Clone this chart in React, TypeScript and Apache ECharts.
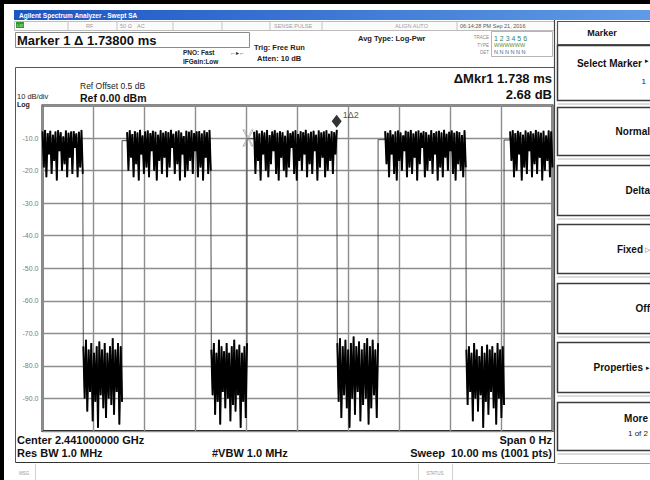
import React, { useEffect, useRef } from "react";
import * as echarts from "echarts";

// ---- Data ----
const highStartsMs = [0.0, 1.66, 4.15, 6.72, 9.17];
const highEndsMs = [0.79, 3.3, 5.77, 8.3, 10.0];
const lowStartsMs = [0.8, 3.31, 5.78, 8.31];
const lowEndsMs = [1.56, 4.01, 6.58, 9.05];
const gapLevelsDb = [-10.8, -10.2, -10.5, -10.6];

const burstHigh1 = [-8, -19, -7.5, -22, -8.5, -15, -7.8, -21, -9, -17, -8, -23, -7.6, -14, -8.2, -20, -9.5, -18, -7.7, -22, -8.4, -16, -8, -21, -7.9, -13, -8.6, -22, -8.1, -19, -7.5, -21];
const burstHigh2 = [-8.2, -20, -7.6, -16, -8.8, -22, -7.9, -18, -8.3, -23, -7.5, -15, -9.2, -21, -8, -19, -7.7, -22, -8.5, -14, -7.8, -20, -8.1, -23, -9, -17, -7.6, -21, -8.4, -16, -7.9, -22, -8.2, -19, -7.5, -13, -8.7, -21, -8, -18, -7.7, -23, -8.3, -15, -9.4, -22, -7.8, -20, -8.1, -17, -7.6, -21, -8.5, -14, -8, -22, -7.9, -19, -8.6, -23, -7.7, -16, -8.2, -21, -7.5, -20];
const burstHigh3 = [-8.1, -21, -7.7, -17, -8.6, -23, -7.8, -15, -8.3, -20, -7.5, -22, -9.1, -18, -8, -14, -7.6, -21, -8.4, -23, -7.9, -16, -8.2, -20, -9.3, -22, -7.7, -19, -8.5, -13, -8, -21, -7.6, -23, -8.8, -17, -7.9, -20, -8.2, -15, -7.5, -22, -8.6, -18, -8.1, -21, -7.8, -14, -9, -23, -7.7, -19, -8.3, -16, -8, -22, -7.6, -20, -8.7, -17, -7.9, -21, -8.2, -15, -7.5];
const burstHigh4 = [-7.9, -18, -8.4, -22, -7.6, -15, -8.9, -21, -8, -23, -7.7, -17, -8.3, -20, -9.2, -14, -7.8, -22, -8.1, -19, -7.5, -21, -8.6, -16, -8, -23, -7.7, -18, -8.4, -13, -7.9, -22, -8.2, -20, -9, -17, -7.6, -21, -8.5, -15, -8, -23, -7.8, -19, -8.3, -22, -7.5, -16, -8.7, -20, -8.1, -14, -7.7, -21, -8.4, -23, -7.9, -18, -8.2, -20, -9.1, -22, -7.6, -19];
const burstHigh5 = [-8, -17, -7.6, -22, -8.5, -20, -7.8, -15, -8.2, -23, -9, -19, -7.7, -21, -8.3, -14, -7.9, -22, -8.6, -18, -7.5, -21, -8.1, -16, -8.4, -23, -7.8, -20, -9.2, -17, -7.7, -22, -8, -19];

const burstLow1 = [-74, -90, -72, -94, -75, -88, -73, -97, -76, -91, -74, -99, -72.5, -89, -75, -93, -73, -96, -76, -90, -74, -92, -71.5, -95, -75, -88, -73, -98, -74, -91];
const burstLow2 = [-75, -89, -73, -95, -76, -91, -72, -98, -74, -88, -75.5, -93, -73, -90, -76, -97, -74, -92, -72, -94, -75, -89, -73.5, -99, -76, -91, -74, -96, -73];
const burstLow3 = [-73, -91, -71.5, -96, -74, -89, -72, -93, -75, -99, -73, -90, -71, -95, -74, -88, -72.5, -97, -75, -92, -73, -90, -71.5, -98, -74, -93, -72, -89, -75, -96, -73];
const burstLow4 = [-75, -92, -74, -88, -76, -97, -73, -90, -75, -94, -77, -89, -74, -99, -76, -91, -73.5, -95, -75, -88, -74, -93, -76, -98, -73, -90, -75, -96, -74, -92];

const markerDelta = [5.768, -7.3];
const markerRef = [4.03, -10.0];

const yTickMin = -100;
const yTickMax = 0;
const xMinMs = 0;
const xMaxMs = 10;

const highBursts = [burstHigh1, burstHigh2, burstHigh3, burstHigh4, burstHigh5];
const lowBursts = [burstLow1, burstLow2, burstLow3, burstLow4];

function segment(start: number, end: number, vals: number[]) {
  return vals.map((v, i) => [start + ((end - start) * i) / (vals.length - 1), v]);
}

// full continuous trace (thin, carries the transitions)
function buildTrace() {
  const pts: any[] = [];
  for (let i = 0; i < highBursts.length; i++) {
    pts.push(...segment(highStartsMs[i], highEndsMs[i], highBursts[i]));
    if (i < lowBursts.length) {
      pts.push(...segment(lowStartsMs[i], lowEndsMs[i], lowBursts[i]));
      pts.push([lowEndsMs[i], gapLevelsDb[i]]);
      pts.push([highStartsMs[i + 1], gapLevelsDb[i]]);
    }
  }
  return pts;
}

// burst-only copy of the same samples (heavier stroke for the dense bursts)
function buildBursts() {
  const pts: any[] = [];
  for (let i = 0; i < highBursts.length; i++) {
    pts.push(...segment(highStartsMs[i], highEndsMs[i], highBursts[i]));
    pts.push([null, null]);
    if (i < lowBursts.length) {
      pts.push(...segment(lowStartsMs[i], lowEndsMs[i], lowBursts[i]));
      pts.push([null, null]);
    }
  }
  return pts;
}

const FONT = '"Liberation Sans", Arial, Helvetica, sans-serif';

function txt(x: number, y: number, text: string, size: number, o: any = {}) {
  return {
    type: "text",
    x,
    y,
    z: 100,
    silent: true,
    style: {
      text,
      fontSize: size,
      fontFamily: FONT,
      fontWeight: o.bold ? "bold" : "normal",
      fill: o.color || "#111",
      align: o.align || "left",
      verticalAlign: "middle",
    },
  };
}
function line(x1: number, y1: number, x2: number, y2: number, stroke = "#333", w = 1) {
  return { type: "line", z: 90, silent: true, shape: { x1, y1, x2, y2 }, style: { stroke, lineWidth: w } };
}
function rect(x: number, y: number, w: number, h: number, fill: any, stroke?: string, lw = 1) {
  return {
    type: "rect",
    z: 80,
    silent: true,
    shape: { x, y, width: w, height: h },
    style: { fill, stroke: stroke || "none", lineWidth: lw },
  };
}

function buildGraphics() {
  const g: any[] = [];
  g.push(rect(0, 0, 650, 4, "#000"));
  g.push(rect(0, 0, 4, 480, "#000"));
  g.push(
    rect(
      14,
      10,
      636,
      10,
      new echarts.graphic.LinearGradient(0, 0, 1, 0, [
        { offset: 0, color: "#1b55c4" },
        { offset: 1, color: "#5f9be6" },
      ])
    )
  );
  g.push(txt(19, 15.5, "Agilent Spectrum Analyzer - Swept SA", 6.5, { bold: true, color: "#fff" }));
  g.push(rect(14.5, 21.5, 540, 9, "#fbfbfb", "#bdbdbd", 1));
  [68, 117, 173, 222, 270, 322, 457].forEach((x) => g.push(line(x, 21.5, x, 30.5, "#c4c4c4", 1)));
  g.push(rect(16, 22, 8, 6, "#2e9a2e"));
  g.push(txt(20, 25, "LXI", 4, { align: "center", color: "#dff5df" }));
  g.push(txt(86, 26, "RF", 5.5, { color: "#9a9a9a" }));
  g.push(txt(120, 26, "50 Ω", 5.5, { color: "#9a9a9a" }));
  g.push(txt(137, 26, "AC", 5.5, { color: "#9a9a9a" }));
  g.push(txt(274, 26, "SENSE:PULSE", 5.5, { color: "#a0a0a0" }));
  g.push(txt(395, 26, "ALIGN AUTO", 5.5, { color: "#a0a0a0" }));
  g.push(txt(460, 26, "06:14:28 PM Sep 21, 2016", 5.5, { color: "#555" }));

  g.push(rect(15.5, 32.5, 234, 15, "#fff", "#8a8a8a", 1));
  g.push(txt(17, 40.5, "Marker 1 Δ 1.73800 ms", 13, { bold: true }));
  g.push(txt(183, 52.5, "PNO: Fast", 6.5, { bold: true, color: "#222" }));
  g.push(txt(230, 52.5, "←▸←", 6, { color: "#222" }));
  g.push(txt(183, 61.5, "IFGain:Low", 6.5, { bold: true, color: "#222" }));
  g.push(txt(254, 47, "Trig: Free Run", 7.5, { bold: true, color: "#222" }));
  g.push(txt(257, 58.5, "Atten: 10 dB", 7.5, { bold: true, color: "#222" }));
  g.push(txt(358, 38.5, "Avg Type: Log-Pwr", 7.5, { bold: true, color: "#222" }));
  g.push(rect(491.5, 31.5, 61, 25, "#fff", "#b5b5b5", 1));
  g.push(txt(489, 37, "TRACE", 4.5, { align: "right", color: "#888" }));
  g.push(txt(489, 45, "TYPE", 4.5, { align: "right", color: "#888" }));
  g.push(txt(489, 52, "DET", 4.5, { align: "right", color: "#888" }));
  g.push(txt(494, 38, "1 2 3 4 5 6", 7, { color: "#2f7f6a" }));
  g.push(txt(494, 45, "WWWWWW", 5.5, { color: "#6a8a2a" }));
  g.push(txt(494, 52, "N N N N N N", 5.5, { color: "#4a6a9a" }));

  g.push(line(15.5, 67.5, 554, 67.5, "#555", 1));
  g.push(line(15.5, 67.5, 15.5, 462.5, "#555", 1));
  g.push(line(15.5, 462.5, 555, 462.5, "#333", 1.2));
  g.push(line(554.5, 20, 554.5, 463, "#444", 1.2));

  g.push(txt(80, 85.5, "Ref Offset 0.5 dB", 8.5, { color: "#222" }));
  g.push(txt(17, 96, "10 dB/div", 7.5, { color: "#222" }));
  g.push(txt(80, 97.5, "Ref 0.00 dBm", 10.5, { bold: true }));
  g.push(txt(17, 104.2, "Log", 7, { bold: true, color: "#222" }));
  g.push(txt(552, 78, "ΔMkr1 1.738 ms", 13, { bold: true, align: "right" }));
  g.push(txt(552, 94, "2.68 dB", 13, { bold: true, align: "right" }));

  g.push(txt(17, 440, "Center 2.441000000 GHz", 11, { bold: true }));
  g.push(txt(17, 453, "Res BW 1.0 MHz", 11, { bold: true }));
  g.push(txt(212, 453, "#VBW 1.0 MHz", 11, { bold: true }));
  g.push(txt(552, 440, "Span 0 Hz", 11, { bold: true, align: "right" }));
  g.push(txt(552, 453, "Sweep  10.00 ms (1001 pts)", 11, { bold: true, align: "right" }));

  g.push(txt(19, 473, "MSG", 4.5, { color: "#999" }));
  g.push(line(35.5, 464, 35.5, 480, "#d0d0d0", 1));
  g.push(line(418.5, 464, 418.5, 480, "#d0d0d0", 1));
  g.push(line(452.5, 464, 452.5, 480, "#d0d0d0", 1));
  g.push(txt(435, 473, "STATUS", 4.5, { align: "center", color: "#999" }));

  g.push(rect(557.5, 21.5, 95, 23, "#fff", "#555", 1.2));
  g.push(txt(602, 33, "Marker", 9, { bold: true, align: "center" }));
  const keys = [
    [45.5, 55],
    [107.5, 48],
    [165.5, 50],
    [224.5, 49],
    [283.5, 50],
    [342.5, 50],
    [402.5, 48],
  ];
  keys.forEach(([y, h]) => {
    g.push(rect(557.5, y, 95, h, "#fff", "#3a3a3a", 1.5));
    g.push(line(557.5, y + h + 3.5, 650, y + h + 3.5, "#b8b8b8", 1));
  });
  g.push(line(557.5, 463.5, 650, 463.5, "#999", 1));
  g.push(txt(642, 63, "Select Marker", 10, { bold: true, align: "right" }));
  g.push(txt(649, 60, "▸", 7, { align: "right" }));
  g.push(txt(646, 81, "1", 8, { align: "right", color: "#222" }));
  g.push(txt(650, 131, "Normal", 10, { bold: true, align: "right" }));
  g.push(txt(650, 190, "Delta", 10, { bold: true, align: "right" }));
  g.push(txt(643, 249, "Fixed", 10, { bold: true, align: "right" }));
  g.push(txt(650, 249, "▷", 7, { align: "right", color: "#666" }));
  g.push(txt(650, 308, "Off", 10, { bold: true, align: "right" }));
  g.push(txt(643, 367, "Properties", 10, { bold: true, align: "right" }));
  g.push(txt(650, 367, "▸", 7, { align: "right" }));
  g.push(txt(648, 418, "More", 10, { bold: true, align: "right" }));
  g.push(txt(648, 433, "1 of 2", 8, { align: "right", color: "#222" }));
  return g;
}

export default function App() {
  const ref = useRef<HTMLDivElement>(null);
  useEffect(() => {
    if (!ref.current) return;
    const chart = echarts.init(ref.current, undefined, { renderer: "svg" });
    const grid = "#8d8d8d";
    chart.setOption({
      animation: false,
      backgroundColor: "#fff",
      grid: {
        left: 42.5,
        right: 97.5,
        top: 105.5,
        bottom: 49,
        show: true,
        borderColor: "#111",
        borderWidth: 2,
        backgroundColor: "#fff",
      },
      xAxis: {
        type: "value",
        min: xMinMs,
        max: xMaxMs,
        interval: 1,
        axisLine: { show: false },
        axisTick: { show: false },
        axisLabel: { show: false },
        splitLine: { show: true, lineStyle: { color: grid, width: 1.4 } },
      },
      yAxis: {
        type: "value",
        min: yTickMin,
        max: yTickMax,
        interval: 10,
        axisLine: { show: false },
        axisTick: { show: false },
        axisLabel: {
          formatter: (v: number) => v.toFixed(1),
          color: "#7a7a7a",
          fontSize: 7,
          fontFamily: FONT,
          margin: 4,
          showMinLabel: false,
          showMaxLabel: false,
        },
        splitLine: { show: true, lineStyle: { color: grid, width: 1.4 } },
      },
      series: [
        {
          type: "line",
          data: buildTrace(),
          symbol: "none",
          lineStyle: { color: "#3a3a3a", width: 0.9 },
          z: 3,
        },
        {
          type: "line",
          data: buildBursts(),
          symbol: "none",
          connectNulls: false,
          lineStyle: { color: "#000", width: 1.9 },
          z: 3,
        },
        {
          type: "scatter",
          data: [markerRef],
          symbol:
            "path://M0,0 L1.5,0 L5,7 L8.5,0 L10,0 L5.8,8 L10,16 L8.5,16 L5,9 L1.5,16 L0,16 L4.2,8 Z",
          symbolSize: [10, 16],
          itemStyle: { color: "rgba(255,255,255,0)", borderColor: "#9a9a9a", borderWidth: 0.8 },
          z: 4,
        },
        {
          type: "scatter",
          data: [markerDelta],
          symbol: "diamond",
          symbolSize: [10, 13],
          symbolOffset: [0, -8],
          itemStyle: { color: "#000" },
          label: {
            show: true,
            formatter: "1Δ2",
            position: "right",
            distance: 1,
            offset: [0, -6],
            fontSize: 9,
            fontFamily: FONT,
            color: "#222",
          },
          z: 5,
        },
      ],
      graphic: buildGraphics(),
    });
    return () => chart.dispose();
  }, []);
  return (
    <div
      ref={ref}
      style={{ position: "absolute", left: 0, top: 0, width: 650, height: 480 }}
    />
  );
}
